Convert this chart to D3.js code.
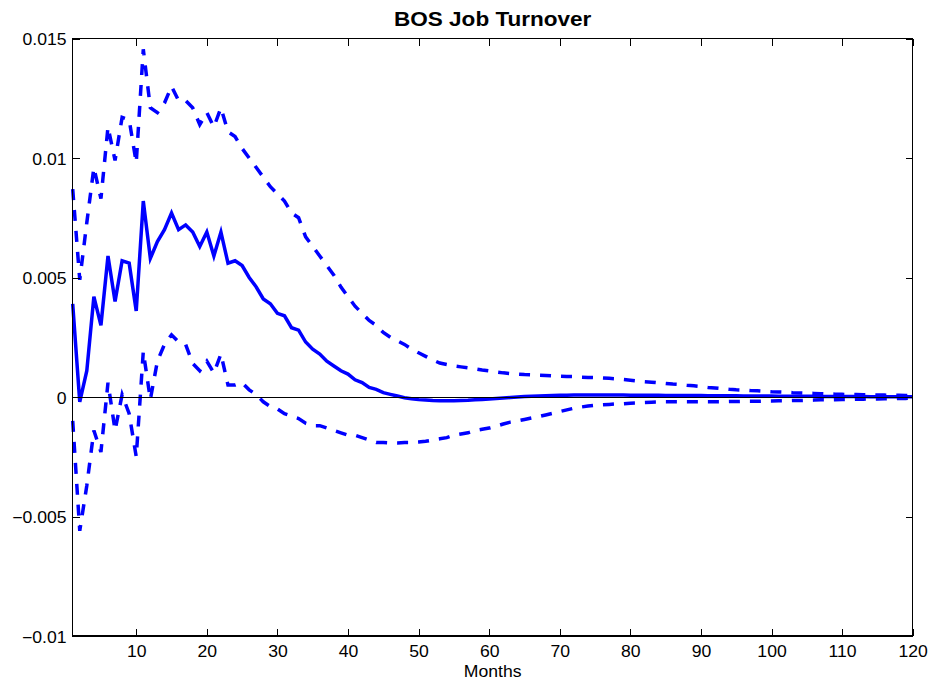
<!DOCTYPE html>
<html>
<head>
<meta charset="utf-8">
<script src="https://cdn.jsdelivr.net/npm/d3@7"></script>
<style>
  html, body { margin: 0; padding: 0; background: #fff; }
  svg { display: block; }
  text { font-family: "Liberation Sans", Arial, Helvetica, sans-serif; fill: #000; }
</style>
</head>
<body>
<svg id="chart" width="930" height="680"></svg>
<script>
// ---- Data ----
const months = d3.range(1, 121);

const irf = [
  0.0039, -0.0002, 0.0011, 0.0042, 0.0030, 0.0059, 0.0040, 0.0057, 0.0056, 0.0036,
  0.0082, 0.0058, 0.0065, 0.0070, 0.0077, 0.0070, 0.0072, 0.0069, 0.0063, 0.0069,
  0.0059, 0.0069, 0.0056, 0.0057, 0.0055, 0.0050, 0.0046, 0.0041, 0.0039, 0.0035,
  0.0034, 0.0029, 0.0028, 0.0023, 0.0020, 0.0018, 0.0015, 0.0013, 0.0011, 0.00096,
  0.00072, 0.0006, 0.0004, 0.00032, 0.00018, 0.00011, 0.00004, -0.00003, -0.00007, -0.00011,
  -0.00013, -0.00015, -0.00016, -0.00016, -0.00016, -0.00015, -0.00014, -0.00012, -0.0001, -0.00008,
  -0.00006, -0.00004, -0.00002, 0.0, 0.00002, 0.00003, 0.00004, 0.00005, 0.00006, 0.00007,
  0.00007, 0.00008, 0.00008, 0.00008, 0.00008, 0.00008, 0.00008, 0.00008, 0.00008, 0.00007,
  0.00007, 0.00007, 0.00007, 0.00007, 0.00006, 0.00006, 0.00006, 0.00006, 0.00006, 0.00006,
  0.00005, 0.00005, 0.00005, 0.00005, 0.00005, 0.00004, 0.00004, 0.00004, 0.00004, 0.00004,
  0.00003, 0.00003, 0.00003, 0.00003, 0.00003, 0.00003, 0.00002, 0.00002, 0.00002, 0.00002,
  0.00002, 0.00002, 0.00002, 0.00001, 0.00001, 0.00001, 0.00001, 0.00001, 0.00001, 0.00001
];

const upper = [
  0.0087, 0.0049, 0.0073, 0.0096, 0.0083, 0.0113, 0.0099, 0.0117, 0.0116, 0.0098,
  0.01455, 0.0121, 0.0119, 0.0123, 0.0130, 0.0124, 0.0124, 0.0121, 0.0114, 0.0119,
  0.0113, 0.0121, 0.0111, 0.0109, 0.0104, 0.0100, 0.0096, 0.0092, 0.0088, 0.0085,
  0.0082, 0.0077, 0.0075, 0.0067, 0.0063, 0.0059, 0.0055, 0.0051, 0.0046, 0.0042,
  0.0038, 0.0035, 0.0032, 0.0030, 0.0027, 0.0025, 0.00235, 0.0022, 0.0020, 0.00185,
  0.0017, 0.00155, 0.00142, 0.00136, 0.0013, 0.00126, 0.00122, 0.00118, 0.00113, 0.00109,
  0.00105, 0.00101, 0.00098, 0.00096, 0.00094, 0.00093, 0.00091, 0.0009, 0.00088, 0.00087,
  0.00086, 0.00085, 0.00083, 0.00082, 0.00081, 0.0008, 0.00078, 0.00076, 0.00073, 0.0007,
  0.00067, 0.00064, 0.00062, 0.00059, 0.00057, 0.00054, 0.00052, 0.00049, 0.00047, 0.00044,
  0.0004, 0.00038, 0.00035, 0.00032, 0.0003, 0.00029, 0.00027, 0.00026, 0.00024, 0.00022,
  0.00021, 0.0002, 0.00018, 0.00017, 0.00016, 0.00015, 0.00014, 0.00013, 0.00012, 0.00011,
  0.0001, 0.0001, 0.00009, 0.00009, 0.00008, 0.00008, 0.00007, 0.00007, 0.00006, 0.00006
];

const lower = [
  -0.0010, -0.0056, -0.0037, -0.0014, -0.0023, 0.0006, -0.0014, 0.0001, -0.0007, -0.0025,
  0.0019, -0.0001, 0.0015, 0.0022, 0.0026, 0.0023, 0.0022, 0.0014, 0.0011, 0.0015,
  0.0010, 0.0018, 0.0005, 0.0005, 0.0006, 0.0003, 0.0001, -0.0002, -0.0004, -0.0005,
  -0.0007, -0.0008, -0.0009, -0.0011, -0.0012, -0.0012, -0.0013, -0.0014, -0.0015, -0.0016,
  -0.0016, -0.0017, -0.0018, -0.0019, -0.0019, -0.00192, -0.00192, -0.0019, -0.0019, -0.00188,
  -0.00185, -0.0018, -0.00175, -0.0017, -0.0016, -0.00155, -0.0015, -0.0014, -0.00135, -0.0013,
  -0.00122, -0.00113, -0.00105, -0.001, -0.00094, -0.00088, -0.00082, -0.00075, -0.00068, -0.00061,
  -0.00054, -0.00047, -0.00042, -0.00038, -0.00035, -0.00033, -0.00031, -0.00029, -0.00028, -0.00026,
  -0.00025, -0.00023, -0.00022, -0.00021, -0.0002, -0.0002, -0.0002, -0.0002, -0.0002, -0.0002,
  -0.0002, -0.0002, -0.0002, -0.00019, -0.00019, -0.00018, -0.00018, -0.00018, -0.00017, -0.00017,
  -0.00016, -0.00016, -0.00015, -0.00015, -0.00014, -0.00013, -0.00012, -0.00012, -0.00011, -0.0001,
  -0.0001, -0.00009, -0.00009, -0.00008, -0.00008, -0.00007, -0.00007, -0.00006, -0.00006, -0.00005
];

const xTickValues = [10, 20, 30, 40, 50, 60, 70, 80, 90, 100, 110, 120];
const xTickLabels = ["10", "20", "30", "40", "50", "60", "70", "80", "90", "100", "110", "120"];
const yTickValues = [-0.01, -0.005, 0, 0.005, 0.01, 0.015];
const yTickLabels = ["\u22120.01", "\u22120.005", "0", "0.005", "0.01", "0.015"];

const titleText = "BOS Job Turnover";
const xLabelText = "Months";

// ---- Layout ----
const svg = d3.select("#chart");
const plotL = 72.7, plotR = 912.7, plotT = 38.5, plotB = 636;
const SX = 1.1; // horizontal stretch of the original text rendering

const x = d3.scaleLinear().domain([1, 120]).range([plotL, plotR]);
const y = d3.scaleLinear().domain([-0.01, 0.015]).range([plotB, plotT]);

// Lines
const line = d3.line().x((d, i) => x(months[i])).y(d => y(d));

const gLines = svg.append("g");
gLines.append("path").datum(upper)
  .attr("d", line).attr("fill", "none").attr("stroke", "#0000ff")
  .attr("stroke-width", 3.5).attr("stroke-dasharray", "11,10");
gLines.append("path").datum(lower)
  .attr("d", line).attr("fill", "none").attr("stroke", "#0000ff")
  .attr("stroke-width", 3.5).attr("stroke-dasharray", "11,10");
gLines.append("path").datum(irf)
  .attr("d", line).attr("fill", "none").attr("stroke", "#0000ff")
  .attr("stroke-width", 3.5);

// Zero line
svg.append("path").datum([0, 0])
  .attr("d", d3.line().x((d, i) => x(i === 0 ? 1 : 120)).y(d => y(d)))
  .attr("stroke", "#000").attr("stroke-width", 1).attr("fill", "none")
  .attr("shape-rendering", "crispEdges");

// Axes (inward ticks, MATLAB style)
const tickLen = 7;
const fmtX = d => xTickLabels[xTickValues.indexOf(d)];
const fmtY = d => yTickLabels[yTickValues.indexOf(d)];

const gx = svg.append("g").attr("transform", `translate(0,${plotB})`)
  .call(d3.axisBottom(x).tickValues(xTickValues).tickFormat(fmtX)
    .tickSizeInner(-tickLen).tickSizeOuter(0).tickPadding(9.5));
gx.selectAll("text").attr("font-size", 16).attr("transform", `scale(${SX},1)`);

const gy = svg.append("g").attr("transform", `translate(${plotL},0)`)
  .call(d3.axisLeft(y).tickValues(yTickValues).tickFormat(fmtY)
    .tickSizeInner(-tickLen).tickSizeOuter(0).tickPadding(6.2 / SX));
gy.selectAll("text").attr("font-size", 16).attr("dy", "0.38em")
  .attr("transform", `scale(${SX},1)`);

svg.append("g").attr("transform", `translate(0,${plotT})`)
  .call(d3.axisTop(x).tickValues(xTickValues).tickFormat("")
    .tickSizeInner(-tickLen).tickSizeOuter(0));
svg.append("g").attr("transform", `translate(${plotR},0)`)
  .call(d3.axisRight(y).tickValues(yTickValues).tickFormat("")
    .tickSizeInner(-tickLen).tickSizeOuter(0));

svg.selectAll(".domain").remove();
svg.selectAll(".tick line").attr("stroke", "#000").attr("stroke-width", 1)
  .attr("shape-rendering", "crispEdges");

// Frame
svg.append("rect").attr("x", plotL).attr("y", plotT)
  .attr("width", plotR - plotL).attr("height", plotB - plotT)
  .attr("fill", "none").attr("stroke", "#000").attr("stroke-width", 1.2)
  .attr("shape-rendering", "crispEdges");

// Title & label
svg.append("text")
  .attr("transform", `translate(${(plotL + plotR) / 2},26) scale(${SX},1)`)
  .attr("text-anchor", "middle").attr("font-size", 20.5).attr("font-weight", "bold")
  .text(titleText);

svg.append("text")
  .attr("transform", `translate(${(plotL + plotR) / 2},677) scale(${SX},1)`)
  .attr("text-anchor", "middle").attr("font-size", 16)
  .text(xLabelText);
</script>
</body>
</html>
